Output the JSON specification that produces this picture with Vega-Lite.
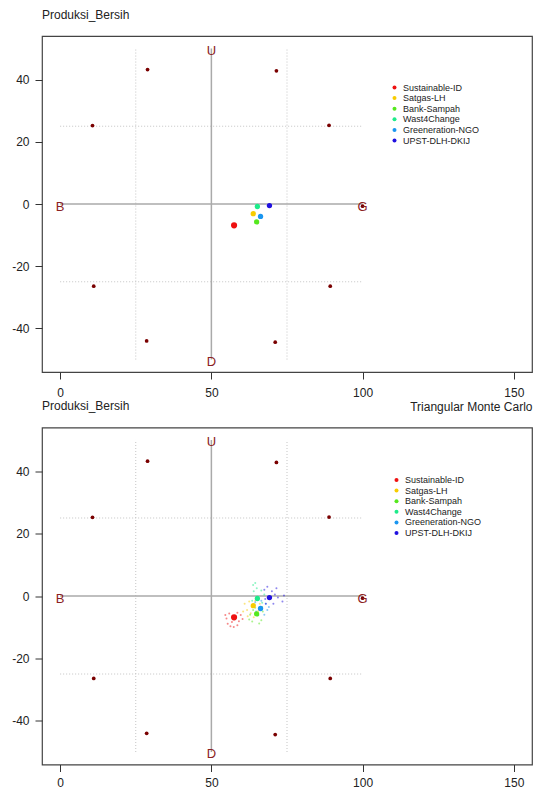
{
  "$schema": "https://vega.github.io/schema/vega-lite/v6.json",
  "background": "white",
  "padding": {"left": 11, "top": 8, "right": 0, "bottom": 0},
  "spacing": 55.5,
  "bounds": "flush",
  "resolve": {"legend": {"color": "independent"}},
  "config": {
    "font": "Liberation Sans",
    "view": {"stroke": "#444444", "strokeWidth": 1.2},
    "axis": {"grid": false, "domain": false, "tickSize": 7, "tickColor": "#333333", "tickWidth": 1, "labelFontSize": 12, "labelColor": "#222222", "labelFont": "Liberation Sans", "labelFlush": false, "labelOverlap": false},
    "title": {"font": "Liberation Sans", "fontSize": 12, "fontWeight": "normal", "color": "#222222", "anchor": "start", "frame": "group", "offset": 14}
  },
  "datasets": {
    "dotted": [
      {"x": 25, "x2": 25, "y": -50, "y2": 50},
      {"x": 75, "x2": 75, "y": -50, "y2": 50},
      {"x": 0, "x2": 100, "y": 25, "y2": 25},
      {"x": 0, "x2": 100, "y": -25, "y2": -25}
    ],
    "solid": [
      {"x": 50, "x2": 50, "y": -50, "y2": 50},
      {"x": 0, "x2": 100, "y": 0, "y2": 0}
    ],
    "anchors": [
      {"x": 10.7, "y": 25.2}, {"x": 28.9, "y": 43.2}, {"x": 71.5, "y": 42.8}, {"x": 88.9, "y": 25.3},
      {"x": 11.1, "y": -26.4}, {"x": 89.3, "y": -26.4}, {"x": 28.6, "y": -44.0}, {"x": 71.1, "y": -44.4},
      {"x": 100, "y": -0.7}
    ],
    "labels": [
      {"x": 50, "y": 49.2, "label": "U"},
      {"x": 50, "y": -50.7, "label": "D"},
      {"x": 0, "y": -0.9, "label": "B"},
      {"x": 100, "y": -0.9, "label": "G"}
    ],
    "points": [
      {"name": "Sustainable-ID", "x": 57.5, "y": -6.85},
      {"name": "Satgas-LH", "x": 63.85, "y": -3.1},
      {"name": "Bank-Sampah", "x": 64.95, "y": -5.75},
      {"name": "Wast4Change", "x": 65.2, "y": -0.8},
      {"name": "Greeneration-NGO", "x": 66.25, "y": -4.0},
      {"name": "UPST-DLH-DKIJ", "x": 69.2, "y": -0.5}
    ],
    "mc": [
      {"name": "Sustainable-ID", "x": 54.6, "y": -6.1}, {"name": "Sustainable-ID", "x": 55.0, "y": -7.2},
      {"name": "Sustainable-ID", "x": 55.4, "y": -8.9}, {"name": "Sustainable-ID", "x": 56.3, "y": -9.7},
      {"name": "Sustainable-ID", "x": 57.4, "y": -9.9}, {"name": "Sustainable-ID", "x": 58.6, "y": -9.4},
      {"name": "Sustainable-ID", "x": 59.1, "y": -8.1}, {"name": "Sustainable-ID", "x": 59.7, "y": -6.1},
      {"name": "Sustainable-ID", "x": 58.6, "y": -5.4}, {"name": "Sustainable-ID", "x": 55.9, "y": -5.6},
      {"name": "Sustainable-ID", "x": 56.8, "y": -8.3}, {"name": "Sustainable-ID", "x": 60.3, "y": -7.4},
      {"name": "Satgas-LH", "x": 61.0, "y": -2.5}, {"name": "Satgas-LH", "x": 61.8, "y": -4.5},
      {"name": "Satgas-LH", "x": 62.5, "y": -1.8}, {"name": "Satgas-LH", "x": 63.0, "y": -5.5},
      {"name": "Satgas-LH", "x": 64.5, "y": -1.5}, {"name": "Satgas-LH", "x": 65.5, "y": -4.8},
      {"name": "Satgas-LH", "x": 62.0, "y": -6.5}, {"name": "Satgas-LH", "x": 60.5, "y": -5.0},
      {"name": "Satgas-LH", "x": 64.0, "y": -6.8}, {"name": "Satgas-LH", "x": 66.0, "y": -2.5},
      {"name": "Bank-Sampah", "x": 62.5, "y": -7.5}, {"name": "Bank-Sampah", "x": 63.5, "y": -8.2},
      {"name": "Bank-Sampah", "x": 64.5, "y": -3.8}, {"name": "Bank-Sampah", "x": 66.5, "y": -7.8},
      {"name": "Bank-Sampah", "x": 67.0, "y": -5.0}, {"name": "Bank-Sampah", "x": 63.8, "y": -4.5},
      {"name": "Bank-Sampah", "x": 65.8, "y": -8.8}, {"name": "Bank-Sampah", "x": 62.8, "y": -6.0},
      {"name": "Bank-Sampah", "x": 66.8, "y": -3.5},
      {"name": "Wast4Change", "x": 63.8, "y": 3.5}, {"name": "Wast4Change", "x": 64.5, "y": 4.2},
      {"name": "Wast4Change", "x": 64.0, "y": 1.5}, {"name": "Wast4Change", "x": 66.5, "y": 1.8},
      {"name": "Wast4Change", "x": 63.5, "y": -1.5}, {"name": "Wast4Change", "x": 66.8, "y": -2.2},
      {"name": "Wast4Change", "x": 65.0, "y": 2.5}, {"name": "Wast4Change", "x": 67.5, "y": 0.5},
      {"name": "Wast4Change", "x": 64.2, "y": -2.8},
      {"name": "Greeneration-NGO", "x": 64.5, "y": -2.0}, {"name": "Greeneration-NGO", "x": 68.0, "y": -2.5},
      {"name": "Greeneration-NGO", "x": 67.5, "y": -6.0}, {"name": "Greeneration-NGO", "x": 65.5, "y": -6.2},
      {"name": "Greeneration-NGO", "x": 68.5, "y": -4.5}, {"name": "Greeneration-NGO", "x": 66.5, "y": -1.5},
      {"name": "Greeneration-NGO", "x": 69.0, "y": -3.5}, {"name": "Greeneration-NGO", "x": 64.8, "y": -5.0},
      {"name": "UPST-DLH-DKIJ", "x": 67.5, "y": 2.0}, {"name": "UPST-DLH-DKIJ", "x": 68.5, "y": 3.0},
      {"name": "UPST-DLH-DKIJ", "x": 70.0, "y": 1.5}, {"name": "UPST-DLH-DKIJ", "x": 71.5, "y": 2.5},
      {"name": "UPST-DLH-DKIJ", "x": 72.0, "y": -0.5}, {"name": "UPST-DLH-DKIJ", "x": 73.5, "y": -1.8},
      {"name": "UPST-DLH-DKIJ", "x": 70.5, "y": -2.5}, {"name": "UPST-DLH-DKIJ", "x": 68.0, "y": -2.5},
      {"name": "UPST-DLH-DKIJ", "x": 71.0, "y": 0.5}, {"name": "UPST-DLH-DKIJ", "x": 74.0, "y": 0.2},
      {"name": "UPST-DLH-DKIJ", "x": 67.8, "y": -1.0}
    ]
  },
  "vconcat": [
    {
      "width": 490,
      "height": 336,
      "title": {"text": "Produksi_Bersih"},
      "encoding": {
        "x": {"field": "x", "type": "quantitative", "scale": {"domain": [-6, 156], "nice": false, "zero": false}, "axis": {"values": [0, 50, 100, 150], "title": null, "labelPadding": 8}},
        "y": {"field": "y", "type": "quantitative", "scale": {"domain": [-54, 54], "nice": false, "zero": false}, "axis": {"values": [-40, -20, 0, 20, 40], "title": null, "labelPadding": 6, "labelExpr": "'' + datum.value"}}
      },
      "layer": [
        {"data": {"name": "dotted"}, "mark": {"type": "rule", "color": "#c4c4c4", "strokeDash": [1, 2], "strokeWidth": 1}, "encoding": {"x2": {"field": "x2"}, "y2": {"field": "y2"}}},
        {"data": {"name": "solid"}, "mark": {"type": "rule", "color": "#aaaaaa", "strokeWidth": 1.5}, "encoding": {"x2": {"field": "x2"}, "y2": {"field": "y2"}}},
        {"data": {"name": "anchors"}, "mark": {"type": "point", "filled": true, "shape": "circle", "color": "#7a0000", "opacity": 1, "size": 14}},
        {"data": {"name": "labels"}, "mark": {"type": "text", "color": "#8b2222", "fontSize": 13, "font": "Liberation Sans", "align": "center", "baseline": "middle"}, "encoding": {"text": {"field": "label"}}},
        {"data": {"name": "points"}, "mark": {"type": "point", "filled": true, "shape": "circle", "opacity": 1},
          "encoding": {
            "color": {"field": "name", "type": "nominal", "scale": {"domain": ["Sustainable-ID", "Satgas-LH", "Bank-Sampah", "Wast4Change", "Greeneration-NGO", "UPST-DLH-DKIJ"], "range": ["#ee1111", "#f8cc00", "#55e81e", "#1eeb8a", "#1a96f0", "#2010e0"]},
              "legend": {"orient": "none", "legendX": 348, "legendY": 47, "title": null, "labelFontSize": 9, "labelFont": "Liberation Sans", "labelColor": "#222222", "symbolSize": 16, "symbolType": "circle", "labelOffset": 4, "rowPadding": 0.6}},
            "size": {"condition": {"test": "datum.name === 'Sustainable-ID'", "value": 38}, "value": 28}
          }}
      ]
    },
    {
      "width": 490,
      "height": 337,
      "title": {"text": "Produksi_Bersih", "offset": -12},
      "resolve": {"axis": {"x": "independent"}},
      "layer": [
        {
          "encoding": {
            "x": {"field": "x", "type": "quantitative", "scale": {"domain": [-6, 156], "nice": false, "zero": false}, "axis": {"values": [0, 50, 100, 150], "title": null, "labelPadding": 6}},
            "y": {"field": "y", "type": "quantitative", "scale": {"domain": [-54, 54], "nice": false, "zero": false}, "axis": {"values": [-40, -20, 0, 20, 40], "title": null, "labelPadding": 6, "labelExpr": "'' + datum.value"}}
          },
          "layer": [
            {"data": {"name": "dotted"}, "mark": {"type": "rule", "color": "#c4c4c4", "strokeDash": [1, 2], "strokeWidth": 1}, "encoding": {"x2": {"field": "x2"}, "y2": {"field": "y2"}}},
            {"data": {"name": "solid"}, "mark": {"type": "rule", "color": "#aaaaaa", "strokeWidth": 1.5}, "encoding": {"x2": {"field": "x2"}, "y2": {"field": "y2"}}},
            {"data": {"name": "anchors"}, "mark": {"type": "point", "filled": true, "shape": "circle", "color": "#7a0000", "opacity": 1, "size": 14}},
            {"data": {"name": "labels"}, "mark": {"type": "text", "color": "#8b2222", "fontSize": 13, "font": "Liberation Sans", "align": "center", "baseline": "middle"}, "encoding": {"text": {"field": "label"}}},
            {"data": {"name": "mc"}, "mark": {"type": "point", "filled": true, "shape": "circle", "opacity": 0.5, "size": 4},
              "encoding": {
                "fill": {"field": "name", "type": "nominal", "scale": {"domain": ["Sustainable-ID", "Satgas-LH", "Bank-Sampah", "Wast4Change", "Greeneration-NGO", "UPST-DLH-DKIJ"], "range": ["#ee1111", "#f8cc00", "#55e81e", "#1eeb8a", "#1a96f0", "#2010e0"]}, "legend": null}
              }},
            {"data": {"name": "points"}, "mark": {"type": "point", "filled": true, "shape": "circle", "opacity": 1},
              "encoding": {
                "color": {"field": "name", "type": "nominal", "scale": {"domain": ["Sustainable-ID", "Satgas-LH", "Bank-Sampah", "Wast4Change", "Greeneration-NGO", "UPST-DLH-DKIJ"], "range": ["#ee1111", "#f8cc00", "#55e81e", "#1eeb8a", "#1a96f0", "#2010e0"]},
                  "legend": {"orient": "none", "legendX": 350, "legendY": 48, "title": null, "labelFontSize": 9, "labelFont": "Liberation Sans", "labelColor": "#222222", "symbolSize": 16, "symbolType": "circle", "labelOffset": 4, "rowPadding": 0.6}},
                "size": {"condition": {"test": "datum.name === 'Sustainable-ID'", "value": 38}, "value": 28}
              }}
          ]
        },
        {
          "data": {"name": "anchors"},
          "mark": {"type": "point", "opacity": 0},
          "encoding": {
            "x": {"field": "x", "type": "quantitative", "scale": {"domain": [-6, 156], "nice": false, "zero": false}, "axis": {"orient": "top", "labels": false, "ticks": false, "domain": false, "title": "Triangular Monte Carlo", "titleAnchor": "end", "titleFontSize": 12, "titleFontWeight": "normal", "titleColor": "#222222", "titleFont": "Liberation Sans", "titlePadding": 14}}
          }
        }
      ]
    }
  ]
}
